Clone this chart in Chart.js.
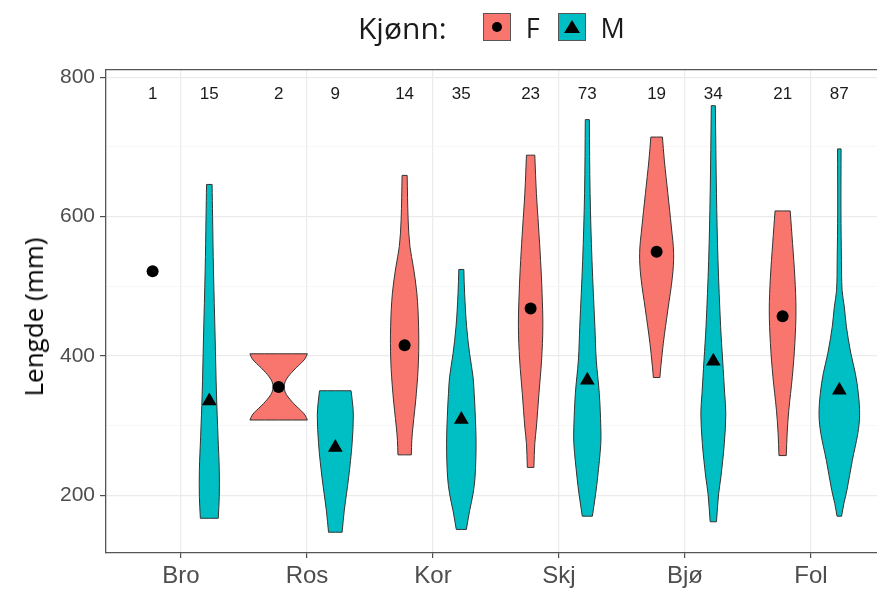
<!DOCTYPE html>
<html lang="no">
<head>
<meta charset="utf-8">
<title>Lengde per lokalitet og kjønn</title>
<script src="https://cdn.jsdelivr.net/npm/chart.js@4/dist/chart.umd.min.js"></script>
<style>
  html, body { margin: 0; padding: 0; background: #ffffff; }
  #wrap { position: relative; width: 877px; height: 589px; overflow: hidden; }
  #chart { position: absolute; left: 0; top: 0; }
  #legend {
    position: absolute; left: 358px; top: 13px; height: 28px;
    display: flex; align-items: center;
    font-family: "Open Sans", sans-serif; color: #1a1a1a;
  }
  #legend .title { font-size: 30px; margin-right: 36px; }
  #legend .lab { font-size: 27px; margin-left: 15px; margin-right: 18px; }
  #legend .key {
    width: 28px; height: 28px; box-sizing: border-box; border: 1px solid #555;
    display: flex; align-items: center; justify-content: center;
  }
  #legend .dot { width: 10px; height: 10px; border-radius: 50%; background: #000; }
  #legend .tri { width: 0; height: 0; border-left: 8px solid transparent;
    border-right: 8px solid transparent; border-bottom: 13px solid #000; margin-top: -2px; }
  #ytitle {
    position: absolute; left: 33px; top: 317px;
    transform: translate(-50%, -50%) rotate(-90deg);
    font-family: "Open Sans", sans-serif; font-size: 26px; color: #000; white-space: nowrap;
  }
</style>
</head>
<body>
<div id="wrap">
  <canvas id="chart" width="877" height="589"></canvas>
  <div id="legend">
    <span class="title">Kjønn:</span>
    <span class="key" id="keyF"><span class="dot"></span></span><span class="lab">F</span>
    <span class="key" id="keyM"><span class="tri"></span></span><span class="lab">M</span>
  </div>
  <div id="ytitle">Lengde (mm)</div>
</div>
<script>
// Sites along the x axis
const sites = ['Bro', 'Ros', 'Kor', 'Skj', 'Bjø', 'Fol'];

// Number of fish per site
const countsF = [1, 2, 14, 23, 19, 21];
const countsM = [15, 9, 35, 73, 34, 87];

// Mean length (mm) per site
const meansF = [521.6, 355.5, 415.4, 468, 549.3, 457];
const meansM = [335.4, 268.5, 308.7, 365, 392.4, 350.7];

// Violin outlines: [length (mm), half-width of the density in x-axis units], bottom to top
const violinsF = [
  [],
  [[308, .228], [315, .210], [322, .175], [328, .139], [335, .103], [341, .075], [348, .052], [355.5, .044],
   [363, .052], [370, .075], [376, .103], [383, .139], [389, .175], [396, .210], [403, .228]],
  [[258, .053], [279, .057], [298, .066], [346, .093], [394, .110], [442, .111], [490, .097], [528, .069],
   [557, .042], [595, .028], [659, .020]],
  [[240, .026], [274, .033], [298, .046], [346, .066], [394, .087], [442, .097], [490, .091], [537, .079],
   [585, .063], [633, .046], [688, .033]],
  [[369, .026], [384, .033], [418, .053], [466, .089], [513, .125], [547, .135], [585, .117], [633, .089],
   [681, .061], [714, .046]],
  [[257, .029], [289, .036], [322, .049], [370, .077], [418, .097], [466, .106], [513, .097], [561, .079],
   [608, .060]]
];
const violinsM = [
  [[167, .071], [198, .079], [236, .079], [284, .069], [344, .057], [427, .046], [523, .033], [600, .026],
   [646, .022]],
  [[147, .054], [178, .071], [226, .106], [274, .133], [315, .143], [335, .135], [350, .125]],
  [[151, .040], [178, .066], [202, .093], [226, .109], [274, .117], [322, .109], [346, .102], [370, .093],
   [403, .066], [442, .042], [490, .026], [524, .020]],
  [[170, .040], [202, .066], [226, .082], [274, .107], [298, .107], [346, .095], [394, .071], [442, .060],
   [537, .037], [633, .022], [739, .016]],
  [[162, .025], [202, .042], [226, .060], [274, .087], [317, .099], [346, .090], [394, .074], [442, .058],
   [537, .037], [633, .025], [759, .016]],
  [[170, .018], [188, .036], [207, .060], [250, .103], [289, .147], [315, .161], [346, .151], [375, .127],
   [404, .091], [442, .056], [470, .040], [494, .022], [537, .017], [608, .013], [697, .014]]
];

// y-axis breaks
const yBreaks = [200, 300, 400, 500, 600, 700, 800];
const yLabelled = [200, 400, 600, 800];

const colF = '#F8766D';
const colM = '#00BFC4';
const dodge = 0.225;

// Closed outline: right edge going up, left edge coming back down.
// The four corners are repeated so the curved sides meet the flat ends sharply.
function outline(profile, centre) {
  const right = profile.map(([v, w]) => ({ x: centre + w, y: v }));
  const left = profile.slice().reverse().map(([v, w]) => ({ x: centre - w, y: v }));
  const corner = (side, idx) => ({ ...side[idx] });
  const pts = [];
  right.forEach((p, k) => {
    if (k === right.length - 1) pts.push(corner(right, k));
    pts.push(p);
  });
  left.forEach((p, k) => {
    pts.push(p);
    if (k === 0 || k === left.length - 1) pts.push(corner(left, k));
  });
  pts.push(corner(right, 0));
  return pts;
}

const datasets = [];
// mean markers on top
datasets.push({
  type: 'scatter', label: 'F',
  data: meansF.map((m, i) => ({ x: i + 1 - dodge, y: m })),
  pointStyle: 'circle', pointRadius: 6, pointBackgroundColor: '#000', pointBorderColor: '#000',
  pointBorderWidth: 0, order: 0
});
datasets.push({
  type: 'scatter', label: 'M',
  data: meansM.map((m, i) => ({ x: i + 1 + dodge, y: m })),
  pointStyle: 'triangle', pointRadius: 8.5, pointBackgroundColor: '#000', pointBorderColor: '#000',
  pointBorderWidth: 0, order: 0
});
sites.forEach((s, i) => {
  [[violinsF[i], i + 1 - dodge, colF], [violinsM[i], i + 1 + dodge, colM]].forEach(([prof, c, col]) => {
    if (!prof.length) return;
    datasets.push({
      type: 'scatter', label: s,
      data: outline(prof, c),
      showLine: true, fill: 'shape', tension: 0.35,
      backgroundColor: col, borderColor: '#333333', borderWidth: 1,
      pointRadius: 0, order: 1
    });
  });
});

// Group sizes written near the top of the panel
const countLabels = {
  id: 'countLabels',
  afterDatasetsDraw(chart) {
    const { ctx, chartArea, scales } = chart;
    ctx.save();
    ctx.font = '17px "Liberation Sans", Arial, sans-serif';
    ctx.fillStyle = '#1a1a1a';
    ctx.textAlign = 'center';
    ctx.textBaseline = 'middle';
    const y = chartArea.top + 24;
    sites.forEach((s, i) => {
      ctx.fillText(String(countsF[i]), scales.x.getPixelForValue(i + 1 - dodge), y);
      ctx.fillText(String(countsM[i]), scales.x.getPixelForValue(i + 1 + dodge), y);
    });
    ctx.restore();
  }
};

const axisGrey = '#4d4d4d';
const borderGrey = '#555555';
const noSidePad = (sc) => { sc.paddingLeft = 0; sc.paddingRight = 0; };

new Chart(document.getElementById('chart'), {
  type: 'scatter',
  data: { datasets },
  options: {
    responsive: false,
    devicePixelRatio: 1,
    animation: false,
    events: [],
    // the panel runs off the right-hand edge of the canvas
    layout: { autoPadding: false, padding: { top: 70, left: 0, right: 0, bottom: 0 } },
    plugins: { legend: { display: false }, tooltip: { enabled: false } },
    scales: {
      x: {
        type: 'linear', position: 'bottom', min: 0.405, max: 6.524,
        afterBuildTicks: (sc) => { sc.ticks = sites.map((s, i) => ({ value: i + 1 })); },
        afterFit: (sc) => { sc.height = 36; noSidePad(sc); },
        ticks: {
          callback: (v) => sites[Math.round(v) - 1] || '',
          color: axisGrey, font: { family: '"Liberation Sans", Arial, sans-serif', size: 24 },
          padding: 4, maxRotation: 0, autoSkip: false
        },
        grid: { color: '#ebebeb', lineWidth: 1.2, tickLength: 5, tickColor: axisGrey, tickWidth: 1.2 },
        border: { display: true, color: borderGrey, width: 1.3 }
      },
      x2: {
        type: 'linear', position: 'top', min: 0.405, max: 6.524,
        afterFit: (sc) => { sc.height = 0; noSidePad(sc); },
        ticks: { display: false },
        grid: { drawOnChartArea: false, drawTicks: false },
        border: { display: true, color: borderGrey, width: 1.3 }
      },
      y: {
        type: 'linear', min: 117.2, max: 810.2,
        afterBuildTicks: (sc) => { sc.ticks = yBreaks.map(v => ({ value: v })); },
        afterFit: (sc) => { sc.width = 106; },
        ticks: {
          callback: (v) => yLabelled.includes(v) ? String(v) : '',
          color: axisGrey, font: { family: '"Liberation Sans", Arial, sans-serif', size: 21 },
          padding: 5, autoSkip: false
        },
        grid: {
          color: (c) => yLabelled.includes(c.tick && c.tick.value) ? '#ebebeb' : '#f4f4f4',
          lineWidth: (c) => yLabelled.includes(c.tick && c.tick.value) ? 1.2 : 0.7,
          tickLength: 6,
          tickColor: (c) => yLabelled.includes(c.tick && c.tick.value) ? axisGrey : 'rgba(0,0,0,0)',
          tickWidth: 1.2
        },
        border: { display: true, color: borderGrey, width: 1.3 }
      }
    }
  },
  plugins: [countLabels]
});

document.getElementById('keyF').style.background = colF;
document.getElementById('keyM').style.background = colM;
</script>
</body>
</html>
